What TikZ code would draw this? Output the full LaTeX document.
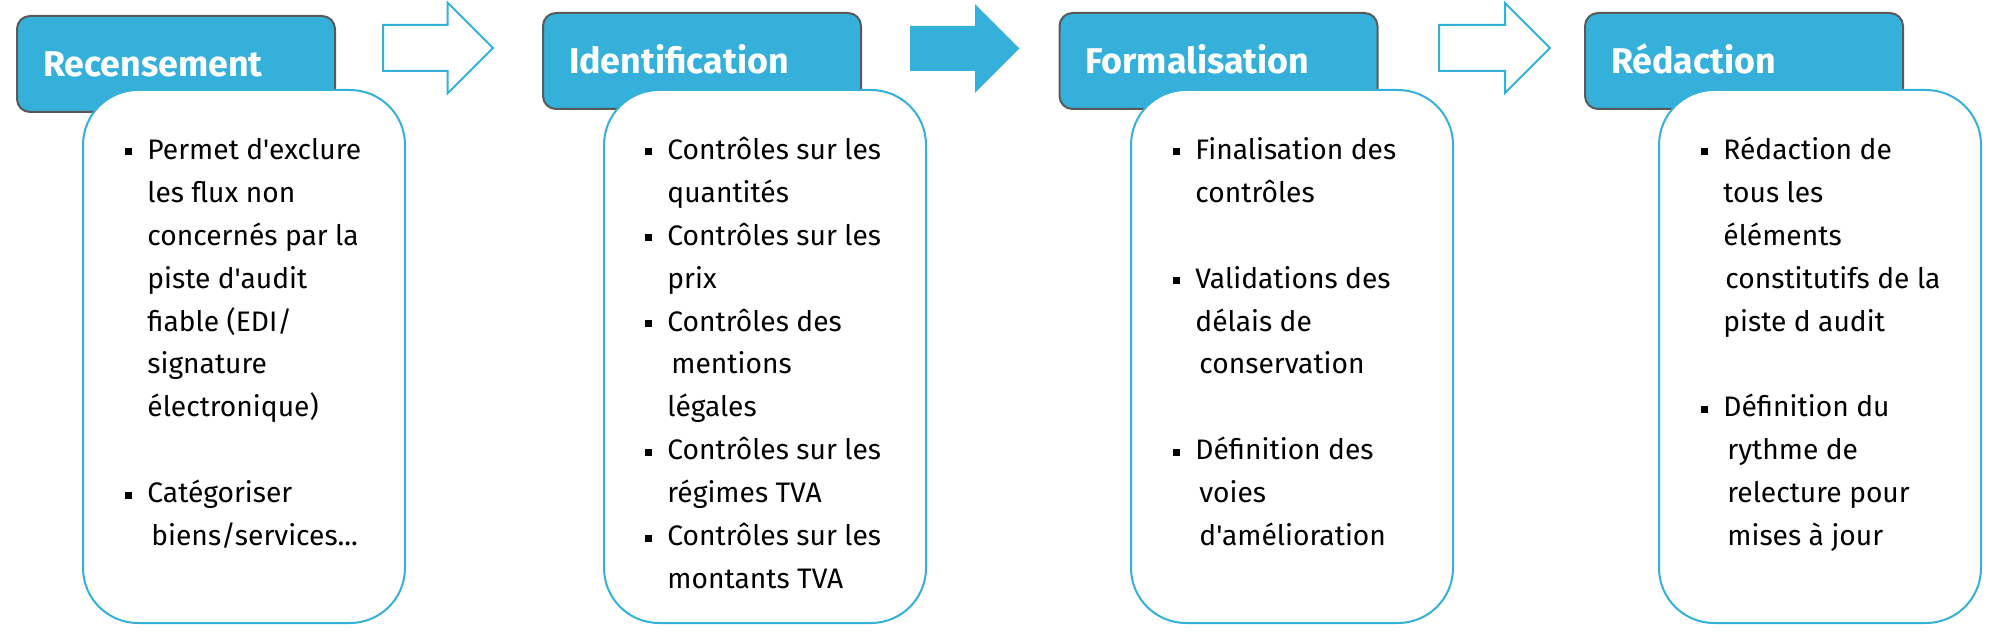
\documentclass[tikz,border=0pt]{standalone}
\usepackage{fontspec}
\setmainfont{Fira Sans}[Ligatures=TeXOff]
\usepackage{tikz}
\usetikzlibrary{positioning, shapes.arrows}

\definecolor{stepblue}{RGB}{52,176,218}
\definecolor{framegray}{RGB}{89,89,89}

% square bullet hanging to the left of the line
\newcommand{\bul}{\strut\llap{\raisebox{2pt}{\rule{3.5pt}{3.5pt}}\hspace{7.5pt}}}

\begin{document}
\begin{tikzpicture}[
    x=0.5pt, y=-0.5pt,
    header/.style={rectangle, draw=framegray, fill=stepblue, line width=1pt, rounded corners=6.5pt, text width=133pt, inner xsep=13pt, minimum height=48pt, text height=12.5pt, text depth=0pt, align=left, text=white, font=\fontsize{17.9}{21}\selectfont\bfseries},
    panel/.style={rectangle, draw=stepblue, fill=white, line width=1pt, rounded corners=27.5pt, minimum width=161pt, minimum height=266.5pt},
    items/.style={anchor=north west, inner sep=0pt, align=left, font=\fontsize{14.1}{21.45}\selectfont},
    blockarrow/.style={single arrow, draw=stepblue, line width=1pt, single arrow head indent=0pt, inner xsep=0pt, anchor=tail},
    hollowarrow/.style={blockarrow, fill=white},
    fullarrow/.style={blockarrow, fill=stepblue}
]
    \useasboundingbox (0,0) rectangle (1995,642);

    % Step headers
    \node[header] (H1) at (176, 64) {Recensement};
    \node[header] (H2) at (702, 61) {Identification};
    \node[header] (H3) at (1218.5, 61) {Formalisation};
    \node[header] (H4) at (1744, 61) {Rédaction};

    % Content panels over the headers
    \node[panel] (P1) at (244, 356.5) {};
    \node[panel] (P2) at (765, 356.5) {};
    \node[panel] (P3) at (1292, 356.5) {};
    \node[panel] (P4) at (1820, 356.5) {};

    % Bullet lists
    \node[items] (L1) at ([xshift=32.5pt, yshift=-20pt]P1.north west) {%
        \bul Permet d'exclure\\
        les flux non\\
        concernés par la\\
        piste d'audit\\
        fiable (EDI/\\
        signature\\
        électronique)\\[21.45pt]
        \bul Catégoriser\\
        \hspace{2pt}biens/services...};
    \node[items] (L2) at ([xshift=32pt, yshift=-20pt]P2.north west) {%
        \bul Contrôles sur les\\
        quantités\\
        \bul Contrôles sur les\\
        prix\\
        \bul Contrôles des\\
        \hspace{2pt}mentions\\
        légales\\
        \bul Contrôles sur les\\
        régimes TVA\\
        \bul Contrôles sur les\\
        montants TVA};
    \node[items] (L3) at ([xshift=32.5pt, yshift=-20pt]P3.north west) {%
        \bul Finalisation des\\
        contrôles\\[21.45pt]
        \bul Validations des\\
        délais de\\
        \hspace{2pt}conservation\\[21.45pt]
        \bul Définition des\\
        \hspace{2pt}voies\\
        \hspace{2pt}d'amélioration};
    \node[items] (L4) at ([xshift=32.5pt, yshift=-20pt]P4.north west) {%
        \bul Rédaction de\\
        tous les\\
        éléments\\
        \hspace{1pt}constitutifs de la\\
        piste d audit\\[21.45pt]
        \bul Définition du\\
        \hspace{2pt}rythme de\\
        \hspace{2pt}relecture pour\\
        \hspace{2pt}mises à jour};

    % Arrows between the steps
    \node[hollowarrow, minimum height=55pt, inner ysep=11pt, single arrow head extend=11.25pt] (A1) at (382, 48) {};
    \node[fullarrow, minimum height=53.5pt, inner ysep=10.25pt, single arrow head extend=10.25pt] (A2) at (910, 48.5) {};
    \node[hollowarrow, minimum height=55.5pt, inner ysep=11pt, single arrow head extend=11pt] (A3) at (1438, 48) {};
\end{tikzpicture}
\end{document}
